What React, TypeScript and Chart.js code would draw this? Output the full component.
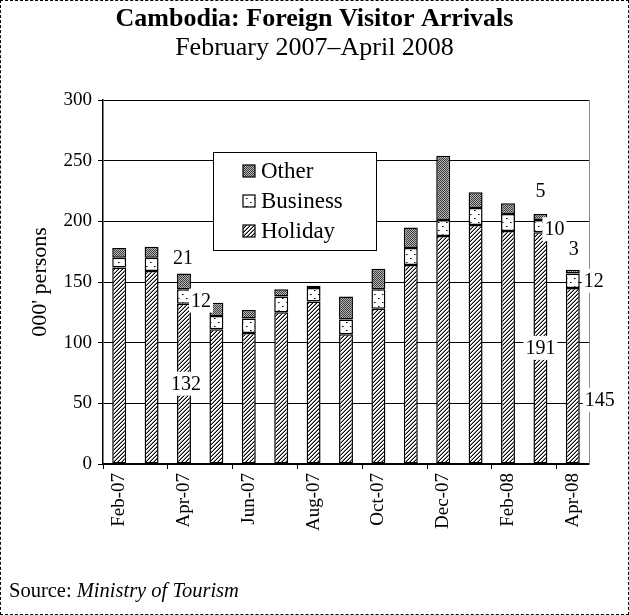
import React, { useEffect, useRef } from 'react';
import { Chart, registerables } from 'chart.js';

Chart.register(...registerables);

const months = ['Feb-07', 'Mar-07', 'Apr-07', 'May-07', 'Jun-07', 'Jul-07', 'Aug-07', 'Sep-07', 'Oct-07', 'Nov-07', 'Dec-07', 'Jan-08', 'Feb-08', 'Mar-08', 'Apr-08'];
const holiday = [162, 159, 132, 111, 108, 125, 134, 107, 128, 164, 188, 197, 192, 191, 145];
const business = [8, 11, 12, 11, 12, 13, 11, 12, 16, 14, 13, 14, 14, 10, 12];
const other = [8, 9, 13, 11, 7, 6, 2, 19, 17, 17, 53, 13, 9, 5, 3];
const yTickValues = [0, 50, 100, 150, 200, 250, 300];

const labelMonths = ['Apr-07', 'Mar-08', 'Apr-08'];
const holidayLabels = ['132', '191', '145'];
const businessLabels = ['12', '10', '12'];
const otherLabels = ['21', '5', '3'];

const SERIF = '"Liberation Serif", "Times New Roman", serif';

// label placement offsets (style only)
const holidayOffsets = [{ dx: 2, dy: 0 }, { dx: 0, dy: 0 }, { dx: 27, dy: 24 }];
const businessOffsets = [{ dx: 17, dy: 4 }, { dx: 14, dy: 3 }, { dx: 21, dy: 0 }];
const otherOffsets = [{ dx: -1, dy: -16 }, { dx: 0, dy: -23 }, { dx: 1, dy: -21 }];

function makePattern(size: number, paint: (x: number, y: number) => string | null): CanvasPattern {
  const c = document.createElement('canvas');
  c.width = size;
  c.height = size;
  const g = c.getContext('2d') as CanvasRenderingContext2D;
  g.fillStyle = '#fff';
  g.fillRect(0, 0, size, size);
  for (let y = 0; y < size; y++) {
    for (let x = 0; x < size; x++) {
      const col = paint(x, y);
      if (col) {
        g.fillStyle = col;
        g.fillRect(x, y, 1, 1);
      }
    }
  }
  return g.createPattern(c, 'repeat') as CanvasPattern;
}

export default function App() {
  const ref = useRef<HTMLCanvasElement | null>(null);

  useEffect(() => {
    const canvas = ref.current;
    if (!canvas) return;

    const hatch = makePattern(4, (x, y) => {
      const m = (x + y) % 4;
      if (m === 3) return '#000';
      if (m === 2) return '#8a8a8a';
      return null;
    });
    const dots = makePattern(8, (x, y) => {
      if ((x === 2 && y === 2) || (x === 6 && y === 6)) return '#000';
      if ((x === 3 && y === 2) || (x === 7 && y === 6)) return '#777';
      return null;
    });
    const stipple = makePattern(2, (x, y) => ((x + y) % 2 === 0 ? '#3a3a3a' : '#b8b8b8'));

    const legendItems = [
      { text: 'Other', fill: stipple },
      { text: 'Business', fill: dots },
      { text: 'Holiday', fill: hatch },
    ];

    const borderPlugin = {
      id: 'rightBorder',
      beforeDatasetsDraw(chart: any) {
        const { ctx, chartArea } = chart;
        ctx.save();
        ctx.strokeStyle = '#8a8a8a';
        ctx.lineWidth = 1;
        ctx.beginPath();
        ctx.moveTo(chartArea.right + 0.5, chartArea.top);
        ctx.lineTo(chartArea.right + 0.5, chartArea.bottom);
        ctx.stroke();
        ctx.restore();
      },
    };

    const annotPlugin = {
      id: 'annots',
      afterDatasetsDraw(chart: any) {
        const ctx = chart.ctx as CanvasRenderingContext2D;
        ctx.save();
        ctx.font = `20px ${SERIF}`;
        ctx.textAlign = 'center';
        ctx.textBaseline = 'middle';
        const groups: [number, string[], { dx: number; dy: number }[]][] = [
          [0, holidayLabels, holidayOffsets],
          [1, businessLabels, businessOffsets],
          [2, otherLabels, otherOffsets],
        ];
        labelMonths.forEach((m, k) => {
          const i = months.indexOf(m);
          groups.forEach(([d, texts, offs]) => {
            const el = chart.getDatasetMeta(d).data[i];
            const p = el.getProps(['x', 'y', 'base'], true);
            const anchorY = d === 2 ? p.y : (p.y + p.base) / 2;
            const tx = p.x + offs[k].dx;
            const ty = anchorY + offs[k].dy;
            const text = texts[k];
            const w = ctx.measureText(text).width;
            ctx.fillStyle = '#fff';
            ctx.fillRect(tx - w / 2 - 2, ty - 12, w + 4, 24);
            ctx.fillStyle = '#000';
            ctx.fillText(text, tx, ty + 1);
          });
        });
        ctx.restore();
      },
    };

    const legendPlugin = {
      id: 'boxLegend',
      afterDraw(chart: any) {
        const ctx = chart.ctx as CanvasRenderingContext2D;
        ctx.save();
        const bx = 213.5, by = 152.5, bw = 163, bh = 98;
        ctx.fillStyle = '#fff';
        ctx.fillRect(bx, by, bw, bh);
        ctx.strokeStyle = '#000';
        ctx.lineWidth = 1;
        ctx.strokeRect(bx, by, bw, bh);
        ctx.font = `23px ${SERIF}`;
        ctx.textAlign = 'left';
        ctx.textBaseline = 'middle';
        legendItems.forEach((it, j) => {
          const cy = 171 + j * 30;
          ctx.fillStyle = it.fill;
          ctx.fillRect(243, cy - 6, 12, 12);
          ctx.strokeStyle = '#000';
          ctx.lineWidth = 1.2;
          ctx.strokeRect(243, cy - 6, 12, 12);
          ctx.fillStyle = '#000';
          ctx.fillText(it.text, 261, cy + 1);
        });
        ctx.restore();
      },
    };

    const barCommon = {
      borderColor: '#000',
      borderWidth: 1.5,
      borderSkipped: false as const,
      categoryPercentage: 1,
      barPercentage: 0.43,
      stack: 's',
    };

    const chart = new Chart(canvas, {
      type: 'bar',
      data: {
        labels: months,
        datasets: [
          { label: 'Holiday', data: holiday, backgroundColor: hatch, ...barCommon },
          { label: 'Business', data: business, backgroundColor: dots, ...barCommon },
          { label: 'Other', data: other, backgroundColor: stipple, ...barCommon },
        ],
      },
      options: {
        responsive: false,
        animation: false,
        devicePixelRatio: 1,
        layout: { padding: { left: 40, right: 40, top: 0, bottom: 70 } },
        plugins: {
          legend: { display: false },
          tooltip: { enabled: false },
          title: {
            display: true,
            text: 'Cambodia: Foreign Visitor Arrivals',
            color: '#000',
            font: { family: SERIF, size: 26, weight: 'bold', lineHeight: 1.1 },
            padding: { top: 5, bottom: 0 },
          },
          subtitle: {
            display: true,
            text: 'February 2007\u2013April 2008',
            color: '#000',
            font: { family: SERIF, size: 26, lineHeight: 1.1 },
            padding: { top: 0, bottom: 37.8 },
          },
        },
        scales: {
          x: {
            stacked: true,
            offset: true,
            grid: {
              offset: true,
              drawOnChartArea: false,
              tickLength: 5,
              lineWidth: 1,
              color: (ctx: any) => (ctx.index !== undefined && ctx.index % 2 === 0 ? '#000' : 'rgba(0,0,0,0)'),
            },
            border: { color: '#000', width: 1.5 },
            ticks: {
              autoSkip: false,
              maxRotation: 90,
              minRotation: 90,
              padding: 4,
              color: '#000',
              font: { family: SERIF, size: 19 },
              callback: (_v: any, i: number) => (i % 2 === 0 ? months[i] : ''),
            },
            afterFit: (s: any) => {
              s.height = 81;
            },
          },
          y: {
            stacked: true,
            min: 0,
            max: 300,
            afterBuildTicks: (s: any) => {
              s.ticks = yTickValues.map((v) => ({ value: v }));
            },
            grid: { color: '#000', lineWidth: 1, tickLength: 5, tickColor: '#000' },
            border: { color: '#000', width: 1.5 },
            ticks: {
              padding: 6,
              color: '#000',
              font: { family: SERIF, size: 19 },
            },
            title: {
              display: true,
              text: "000' persons",
              color: '#000',
              font: { family: SERIF, size: 22, lineHeight: 1.2 },
              padding: { top: -13.2, bottom: 0 },
            },
            afterFit: (s: any) => {
              s.width = 63;
            },
          },
        },
      },
      plugins: [borderPlugin, annotPlugin, legendPlugin],
    } as any);

    return () => chart.destroy();
  }, []);

  return (
    <div style={{ position: 'fixed', left: 0, top: 0, width: 629, height: 615, background: '#fff' }}>
      <canvas ref={ref} width={629} height={615} style={{ position: 'absolute', left: 0, top: 0, width: 629, height: 615 }} />
      <div
        style={{
          position: 'absolute',
          left: 9,
          top: 578,
          fontFamily: SERIF,
          fontSize: 20.5,
          lineHeight: '24px',
          color: '#000',
          whiteSpace: 'nowrap',
        }}
      >
        Source: <i>Ministry of Tourism</i>
      </div>
      <div
        style={{
          position: 'absolute',
          left: 0,
          top: 0,
          width: 629,
          height: 615,
          boxSizing: 'border-box',
          border: '1px dashed #000',
          pointerEvents: 'none',
        }}
      />
    </div>
  );
}
